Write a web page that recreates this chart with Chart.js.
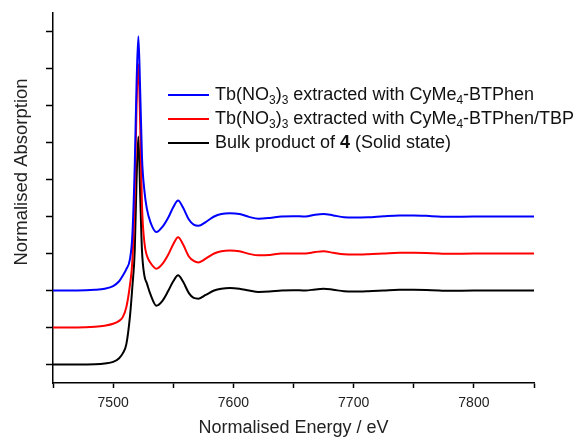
<!DOCTYPE html>
<html>
<head>
<meta charset="utf-8">
<script src="https://cdn.jsdelivr.net/npm/chart.js@4.4.0/dist/chart.umd.min.js"></script>
<style>
  html, body { margin: 0; padding: 0; background: #fff; }
  #wrap { width: 573px; height: 439px; position: relative; }
</style>
</head>
<body>
<div id="wrap"><canvas id="xanes"></canvas></div>
<script>
// energies (eV) and stacked normalised absorption
let energy = [7450, 7470, 7485, 7493, 7500, 7505, 7508, 7511, 7514, 7516, 7518, 7519.5, 7521, 7522.5,
  7524, 7526, 7528, 7531, 7536, 7541, 7546, 7550, 7554, 7558, 7563, 7567, 7571, 7577, 7584, 7590,
  7597, 7605, 7613, 7621, 7630, 7640, 7650, 7660, 7668, 7675, 7683, 7692, 7700, 7712, 7725, 7738,
  7750, 7765, 7780, 7800, 7825, 7850]

let tbBtphen = [2.00, 2.00, 2.02, 2.05, 2.12, 2.25, 2.40, 2.58, 2.85, 3.5, 5.4, 7.6, 8.87, 7.4,
  5.6, 4.7, 4.22, 3.85, 3.58, 3.72, 3.98, 4.25, 4.43, 4.25, 3.92, 3.78, 3.75, 3.85, 4.0, 4.07,
  4.09, 4.07, 3.99, 3.94, 3.96, 4.0, 4.01, 4.0, 4.05, 4.07, 4.03, 3.98, 3.97, 3.98, 4.01, 4.03,
  4.03, 4.01, 3.99, 4.0, 4.0, 4.0]

let tbBtphenTbp = [1.00, 1.00, 1.02, 1.05, 1.10, 1.18, 1.28, 1.55, 2.15, 2.8, 4.6, 7.0, 8.13, 6.5,
  4.3, 3.3, 2.95, 2.75, 2.59, 2.72, 2.98, 3.25, 3.44, 3.26, 2.92, 2.80, 2.76, 2.86, 3.0, 3.06,
  3.08, 3.06, 2.99, 2.95, 2.96, 3.0, 3.0, 3.0, 3.04, 3.06, 3.02, 2.98, 2.97, 2.98, 3.0, 3.02,
  3.02, 3.01, 2.99, 3.0, 3.0, 3.0]

let bulk4 = [0, 0, 0.01, 0.03, 0.07, 0.17, 0.3, 0.55, 1.3, 2.1, 3.1, 5.0, 6.16, 4.6,
  3.08, 2.4, 2.2, 1.9, 1.59, 1.72, 2.0, 2.25, 2.41, 2.25, 1.93, 1.8, 1.78, 1.88, 2.0, 2.05,
  2.07, 2.05, 2.0, 1.96, 1.97, 2.0, 2.01, 2.0, 2.03, 2.05, 2.02, 1.98, 1.97, 1.98, 2.0, 2.02,
  2.02, 2.01, 1.99, 2.0, 2.0, 2.0]

let seriesLabels = ['Tb(NO₃)₃ extracted with CyMe₄-BTPhen',
  'Tb(NO₃)₃ extracted with CyMe₄-BTPhen/TBP',
  'Bulk product of 4 (Solid state)']
let seriesColours = ['#0000FF', '#FF0000', '#000000']
let xTickLabels = [7500, 7600, 7700, 7800]
let yTickValues = [0, 1, 2, 3, 4, 5, 6, 7, 8, 9]   // unlabelled ticks on the y axis

// legend text with sub/bold pieces
let legendParts = [
  [['Tb(NO'], ['3', 'sub'], [')'], ['3', 'sub'], [' extracted with CyMe'], ['4', 'sub'], ['-BTPhen']],
  [['Tb(NO'], ['3', 'sub'], [')'], ['3', 'sub'], [' extracted with CyMe'], ['4', 'sub'], ['-BTPhen/TBP']],
  [['Bulk product of '], ['4', 'bold'], [' (Solid state)']]
]

const FONT = '"Liberation Sans", Arial, sans-serif'
Chart.defaults.font.family = FONT
Chart.defaults.color = '#222'

function pts(ys) {
  return energy.map((e, i) => ({ x: e, y: ys[i] }))
}

const richLegend = {
  id: 'richLegend',
  afterDraw(chart) {
    const c = chart.ctx
    const rows = [95, 119, 143]
    c.save()
    c.textBaseline = 'middle'
    legendParts.forEach((parts, i) => {
      const y = rows[i]
      c.strokeStyle = seriesColours[i]
      c.lineWidth = 2
      c.beginPath()
      c.moveTo(168, y)
      c.lineTo(209, y)
      c.stroke()
      let x = 215
      c.fillStyle = '#111'
      parts.forEach(([txt, kind]) => {
        let dy = 0
        if (kind === 'sub') { c.font = '12px ' + FONT; dy = 6 }
        else if (kind === 'bold') { c.font = 'bold 18px ' + FONT }
        else { c.font = '18px ' + FONT }
        c.fillText(txt, x, y + dy)
        x += c.measureText(txt).width
      })
    })
    // y axis title
    c.translate(22, 172)
    c.rotate(-Math.PI / 2)
    c.textAlign = 'center'
    c.font = '18.5px ' + FONT
    c.fillStyle = '#222'
    c.fillText('Normalised Absorption', 0, 0)
    c.restore()
  }
}

new Chart(document.getElementById('xanes').getContext('2d'), {
  type: 'line',
  data: {
    datasets: [tbBtphen, tbBtphenTbp, bulk4].map((ys, i) => ({
      label: seriesLabels[i],
      data: pts(ys),
      borderColor: seriesColours[i],
      borderWidth: 2,
      pointRadius: 0,
      fill: false,
      cubicInterpolationMode: 'monotone'
    }))
  },
  options: {
    responsive: true,
    maintainAspectRatio: false,
    animation: false,
    layout: { padding: { top: 13, right: 39, left: 0, bottom: 0 } },
    plugins: { legend: { display: false }, tooltip: { enabled: false } },
    scales: {
      x: {
        type: 'linear',
        min: 7450,
        max: 7850,
        afterFit(s) { s.height = 56 },
        border: { color: '#000', width: 1.5 },
        grid: { drawOnChartArea: false, tickLength: 5, tickColor: '#000', tickWidth: 1.5 },
        ticks: {
          stepSize: 50,
          padding: 7,
          font: { size: 14 },
          color: '#222',
          maxRotation: 0,
          autoSkip: false,
          callback: v => xTickLabels.includes(v) ? String(v) : ''
        },
        title: {
          display: true,
          text: 'Normalised Energy / eV',
          font: { size: 18 },
          color: '#222',
          padding: { top: 0, bottom: 0 }
        }
      },
      y: {
        min: -0.5,
        max: 9.5,
        afterFit(s) { s.width = 53 },
        afterBuildTicks(s) { s.ticks = yTickValues.map(v => ({ value: v })) },
        border: { color: '#000', width: 1.5 },
        grid: { drawOnChartArea: false, tickLength: 7, tickColor: '#000', tickWidth: 1.5 },
        ticks: { display: true, callback: () => '' }
      }
    }
  },
  plugins: [richLegend]
})
</script>
</body>
</html>
